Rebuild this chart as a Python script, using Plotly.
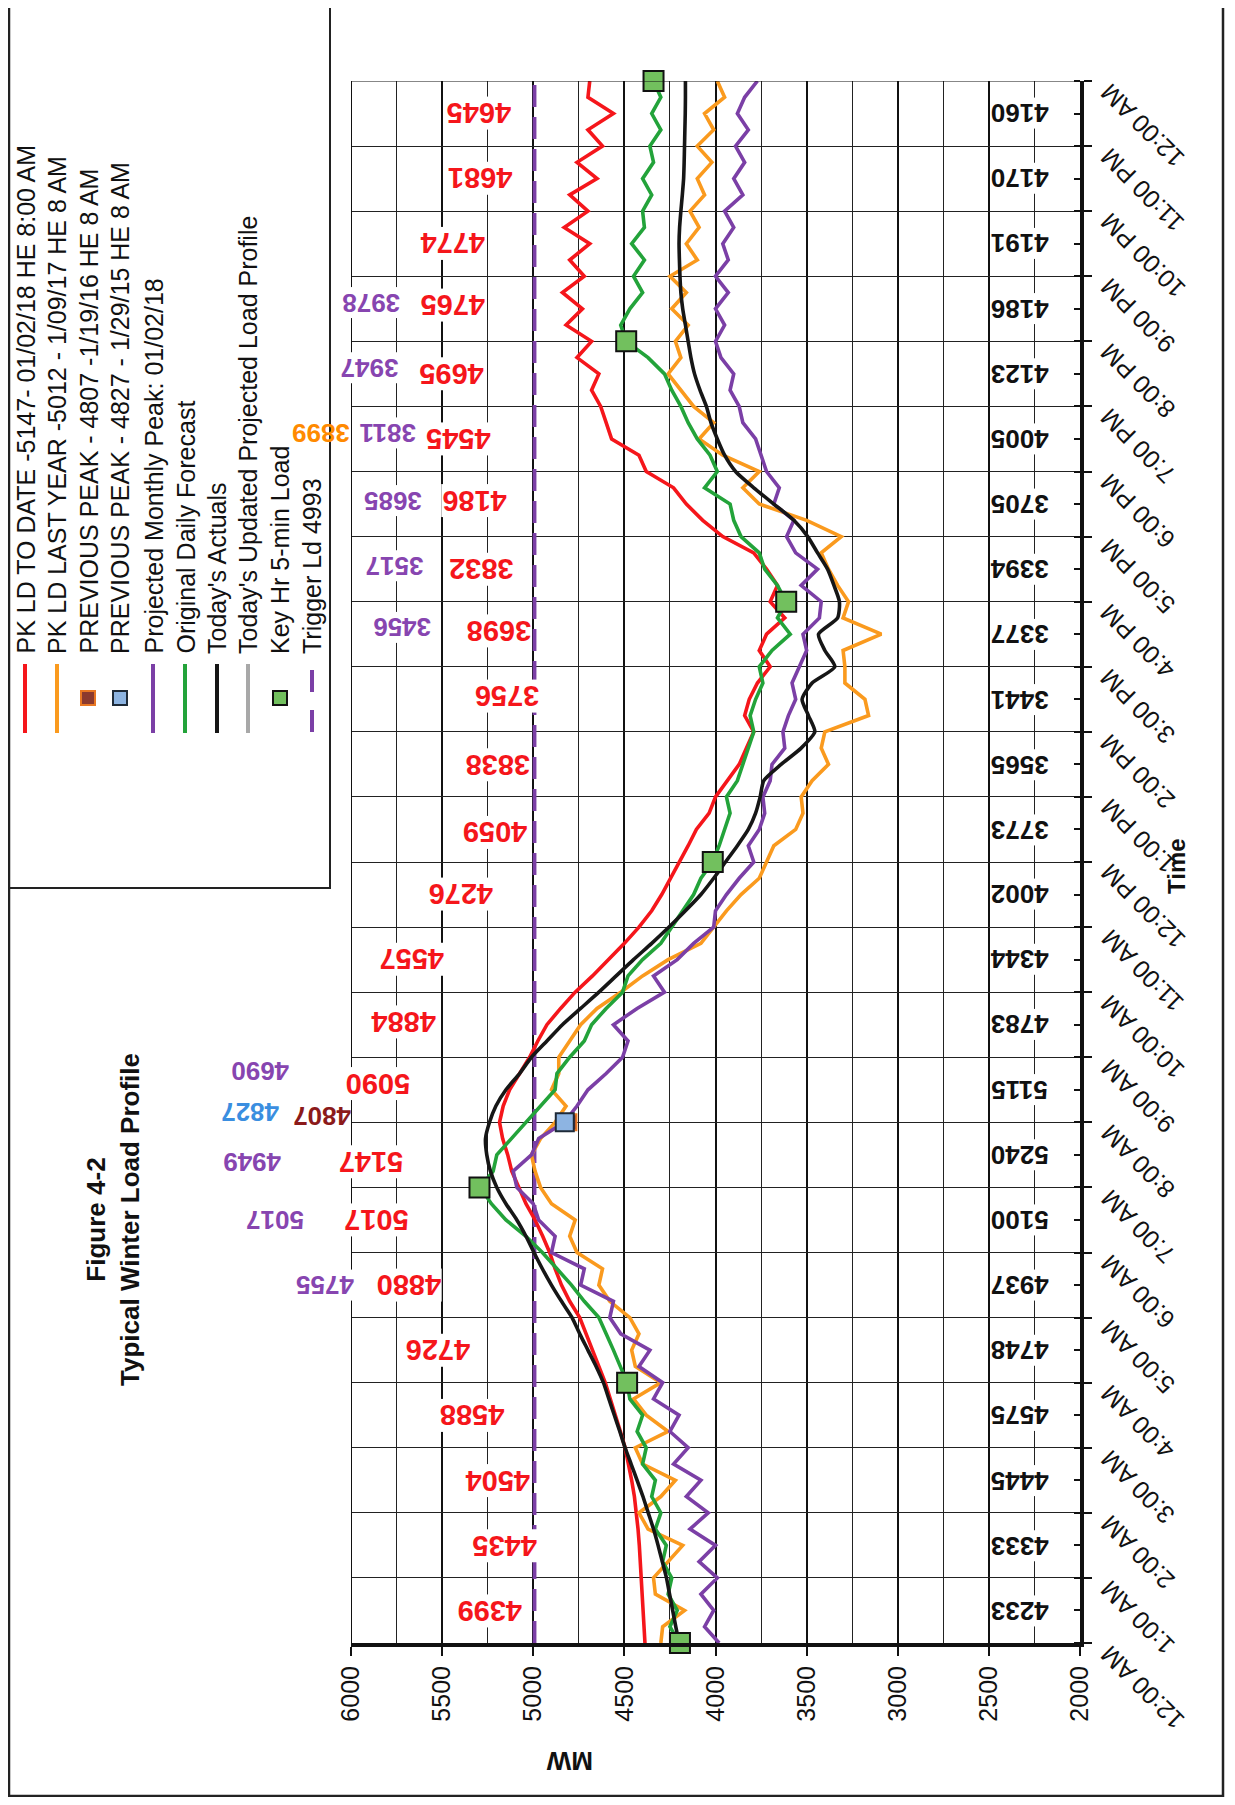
import plotly.graph_objects as go

FONT = "Liberation Sans, Arial, sans-serif"

# ---------------- data ----------------
# time in hours after midnight, 15-minute samples (0 .. 24)
hours = [q / 4 for q in range(97)]
hour_ticks = list(range(25))
hour_labels = ["12:00 AM", "1:00 AM", "2:00 AM", "3:00 AM", "4:00 AM", "5:00 AM",
               "6:00 AM", "7:00 AM", "8:00 AM", "9:00 AM", "10:00 AM", "11:00 AM",
               "12:00 PM", "1:00 PM", "2:00 PM", "3:00 PM", "4:00 PM", "5:00 PM",
               "6:00 PM", "7:00 PM", "8:00 PM", "9:00 PM", "10:00 PM", "11:00 PM",
               "12:00 AM"]
mw_ticks = [6000, 5500, 5000, 4500, 4000, 3500, 3000, 2500, 2000]

pk_ld_to_date = [
    4387, 4392, 4395, 4400,  4405, 4410, 4418, 4425,  4433, 4445, 4460, 4478,
    4496, 4522, 4550, 4578,  4605, 4640, 4675, 4712,  4745, 4800, 4845, 4880,
    4910, 4948, 4990, 5040,  5080, 5118, 5140, 5168,  5185, 5165, 5130, 5075,
    5020, 4975, 4925, 4850,  4770, 4675, 4585, 4500,  4420, 4350, 4295, 4245,
    4200, 4150, 4105, 4035,  4000, 3935, 3870, 3830,  3790, 3840, 3815, 3770,
    3700, 3760, 3720, 3620,  3700, 3660, 3720, 3790,  3960, 4070, 4160, 4230,
    4380, 4420, 4570, 4600,  4630, 4680, 4640, 4760,  4680, 4820, 4730, 4840,
    4720, 4800, 4690, 4830,  4700, 4800, 4650, 4760,  4620, 4700, 4560, 4700,
    4690]

pk_ld_last_year = [
    4300, 4290, 4170, 4330,  4340, 4260, 4180, 4370,  4420, 4300, 4220, 4400,
    4440, 4260, 4380, 4450,  4300, 4440, 4460, 4420,  4470, 4580, 4640, 4620,
    4760, 4800, 4770, 4900,  4960, 4990, 5010, 4960,  4880, 4820, 4900, 4860,
    4860, 4800, 4740, 4650,  4520, 4400, 4260, 4080,  4010, 3940, 3860, 3760,
    3720, 3680, 3560, 3520,  3530, 3470, 3380, 3420,  3400, 3160, 3180, 3290,
    3290, 3300, 3090, 3300,  3270, 3330, 3380, 3420,  3310, 3500, 3760, 3850,
    3760, 3960, 4090, 4010,  4120, 4190, 4260, 4190,  4220, 4150, 4240, 4160,
    4250, 4100, 4160, 4090,  4140, 4060, 4100, 4020,  4100, 4010, 4060, 3950,
    3990]

projected_monthly_peak = [
    3980, 4060, 4010, 4080,  3990, 4090, 4000, 4140,  4040, 4160, 4080, 4230,
    4150, 4250, 4200, 4340,  4290, 4420, 4360, 4520,  4580, 4560, 4740, 4720,
    4900, 4880, 4970, 5000,  5090, 5110, 5010, 4970,  4830, 4760, 4700, 4600,
    4510, 4480, 4560, 4430,  4280, 4340, 4210, 4120,  4010, 4000, 3940, 3870,
    3790, 3820, 3760, 3730,  3740, 3700, 3690, 3620,  3630, 3600, 3560, 3580,
    3540, 3500, 3520, 3430,  3420, 3530, 3440, 3560,  3610, 3570, 3680, 3650,
    3720, 3750, 3780, 3850,  3870, 3920, 3900, 3970,  4000, 3950, 4000, 3930,
    4000, 3930, 3960, 3900,  3950, 3850, 3900, 3840,  3890, 3820, 3880, 3840,
    3770]

original_daily_forecast = [
    4200, 4250, 4210, 4260,  4240, 4290, 4270, 4330,  4300, 4350, 4330, 4400,
    4380, 4430, 4400, 4470,  4485, 4520, 4560, 4600,  4640, 4720, 4790, 4870,
    4950, 5040, 5150, 5230,  5290, 5220, 5200, 5120,  5040, 4960, 4880, 4870,
    4800, 4720, 4680, 4600,  4510, 4480, 4400, 4300,  4240, 4180, 4120, 4080,
    4015, 3980, 3950, 3920,  3940, 3880, 3850, 3820,  3790, 3810, 3780, 3740,
    3760, 3690, 3590, 3660,  3612, 3660, 3730, 3760,  3860, 3900, 3920, 4060,
    3990, 4030, 4100, 4150,  4190, 4240, 4280, 4370,  4490, 4520, 4470, 4400,
    4450, 4390, 4460, 4390,  4400, 4350, 4400, 4340,  4360, 4300, 4350, 4300,
    4340]

todays_actuals = [
    4200, 4218, 4235, 4252,  4269, 4292, 4315, 4340,  4369, 4398, 4430, 4463,
    4496, 4525, 4555, 4585,  4615, 4655, 4700, 4745,  4787, 4845, 4900, 4950,
    4996, 5040, 5090, 5150,  5200, 5235, 5255, 5262,  5240, 5205, 5150, 5075,
    5010, 4925, 4840, 4740,  4640, 4545, 4450, 4350,  4255, 4165, 4080, 4010,
    3945, 3880, 3820, 3780,  3755, 3735, 3640, 3530,  3455, 3490, 3525, 3470,
    3345, 3400, 3435, 3330,  3320, 3350, 3385, 3440,  3494, 3570, 3680, 3790,
    3890, 3950, 3990, 4025,  4050, 4085, 4115, 4135,  4150, 4165, 4180, 4190,
    4195, 4198, 4200, 4197,  4190, 4182, 4175, 4172,  4170, 4168, 4166, 4165,
    4165]

key_hr_hours = [0, 4, 7, 12, 16, 20, 24]
key_hr_mw = [4195, 4485, 5295, 4015, 3612, 4490, 4340]

prev_peak_hour = 8
prev_peak_2016 = 4807
prev_peak_2015 = 4827
trigger_ld = 4993

# hourly value labels (hour ending 1..24)
pk_to_date_hourly = [4399, 4435, 4504, 4588, 4726, 4880, 5017, 5147, 5090, 4884, 4557, 4276,
                     4059, 3838, 3756, 3698, 3832, 4186, 4545, 4695, 4765, 4774, 4681, 4645]
todays_actual_hourly = [4233, 4333, 4445, 4575, 4748, 4937, 5100, 5240, 5115, 4783, 4344, 4002,
                        3773, 3565, 3441, 3377, 3394, 3705, 4005, 4123, 4186, 4191, 4170, 4160]
proj_peak_hourly = [4755, 5017, 4949, 4690, 3456, 3517, 3685, 3811, 3947, 3978]
last_year_he19 = 3899

legend_items = ["PK LD TO DATE -5147- 01/02/18 HE 8:00 AM",
                "PK LD LAST YEAR -5012 - 1/09/17 HE 8 AM",
                "PREVIOUS PEAK - 4807 -1/19/16 HE 8 AM",
                "PREVIOUS PEAK - 4827 - 1/29/15 HE 8 AM",
                "Projected Monthly Peak: 01/02/18",
                "Original Daily Forecast",
                "Today's Actuals",
                "Today's Updated Projected Load Profile",
                "Key Hr 5-min Load",
                "Trigger Ld 4993"]

# ---------------- styling / placement ----------------
OFF = 8                                   # browser body margin
W, H = 1219, 1789
L, R, T, B = 351, 1080, 81, 1643          # plot area in screen pixels


def px(x):
    return (x - L) / (R - L)


def py(y):
    return (B - y) / (B - T)


def mwx(mw):
    return (6000 - mw) / 4000             # MW value -> paper x (reversed axis)


RED = "#F5161B"
ORANGE = "#FA9A1E"
PURPLE = "#7B3FA6"
GREEN = "#23A33A"
BLACK = "#161616"
GREY = "#A8A8A8"
SQ_GREEN = "#72C05E"
LBL_PURPLE = "#8745B0"
LW = 3.6

red_label_x = [5240, 5158, 5196, 5335, 5525, 5684, 5861, 5892, 5854, 5715, 5665, 5399,
               5209, 5196, 5146, 5190, 5285, 5323, 5411, 5449, 5443, 5443, 5291, 5297]
red_label_h = [0.5, 1.5, 2.5, 3.5, 4.5, 5.5, 6.5, 7.4, 8.6, 9.55, 10.5, 11.5,
               12.45, 13.5, 14.55, 15.55, 16.5, 17.55, 18.5, 19.5, 20.55, 21.5, 22.5, 23.5]
proj_label_x = [6143, 6417, 6543, 6499, 5720, 5760, 5770, 5800, 5900, 5890]
proj_label_h = [5.5, 6.5, 7.4, 8.8, 15.6, 16.55, 17.55, 18.6, 19.6, 20.6]

fig = go.Figure()

fig.add_trace(go.Scatter(x=[trigger_ld, trigger_ld], y=[0, 24], mode="lines",
                         line=dict(color=PURPLE, width=3.8, dash="22px,10px"),
                         hoverinfo="skip"))
fig.add_trace(go.Scatter(x=pk_ld_to_date, y=hours, mode="lines",
                         line=dict(color=RED, width=LW)))
fig.add_trace(go.Scatter(x=pk_ld_last_year, y=hours, mode="lines",
                         line=dict(color=ORANGE, width=LW)))
fig.add_trace(go.Scatter(x=projected_monthly_peak, y=hours, mode="lines",
                         line=dict(color=PURPLE, width=LW)))
fig.add_trace(go.Scatter(x=original_daily_forecast, y=hours, mode="lines",
                         line=dict(color=GREEN, width=LW)))
fig.add_trace(go.Scatter(x=todays_actuals, y=hours, mode="lines",
                         line=dict(color=BLACK, width=LW, shape="spline", smoothing=0.6)))
fig.add_trace(go.Scatter(x=[prev_peak_2016], y=[prev_peak_hour], mode="markers",
                         marker=dict(symbol="square", size=16, color="#8B3A2E",
                                     line=dict(color="#E87722", width=2))))
fig.add_trace(go.Scatter(x=[prev_peak_2015], y=[prev_peak_hour], mode="markers",
                         marker=dict(symbol="square", size=18, color="#8DB4E2",
                                     line=dict(color="#1E2A38", width=2))))
fig.add_trace(go.Scatter(x=key_hr_mw, y=key_hr_hours, mode="markers", cliponaxis=False,
                         marker=dict(symbol="square", size=20, color=SQ_GREEN,
                                     line=dict(color="#111", width=2))))

ann = []


def label(xm, hh, text, color, size, bg=True):
    ann.append(dict(x=mwx(xm), y=hh, xref="paper", yref="y", text=f"<b>{text}</b>",
                    showarrow=False, textangle=180, xanchor="center", yanchor="middle",
                    bgcolor="white" if bg else None, borderpad=0,
                    font=dict(family=FONT, size=size, color=color)))


for v, xm, hh in zip(pk_to_date_hourly, red_label_x, red_label_h):
    label(xm, hh, v, RED, 29)
for v, xm, hh in zip(proj_peak_hourly, proj_label_x, proj_label_h):
    label(xm, hh, v, LBL_PURPLE, 26)
label(6159, 8.1, prev_peak_2016, "#8B1A1A", 26, bg=False)
label(6554, 8.16, prev_peak_2015, "#3A8EE0", 26, bg=False)
label(6165, 18.6, last_year_he19, "#FF8A00", 26, bg=False)
for i, v in enumerate(todays_actual_hourly):
    label(2330, i + 0.5, v, "#111", 26)

# time tick labels
for hh, lab in zip(hour_ticks, hour_labels):
    ann.append(dict(x=px(R + 12), y=hh, xref="paper", yref="y", text=lab, showarrow=False,
                    textangle=-135, xanchor="left", yanchor="top", yshift=6,
                    font=dict(family=FONT, size=25, color="#111")))


def ptext(x, y, text, angle, size):
    ann.append(dict(x=px(x), y=py(y), xref="paper", yref="paper", text=text, showarrow=False,
                    textangle=angle, xanchor="center", yanchor="middle",
                    font=dict(family=FONT, size=size, color="#111")))


ptext(1176, 866, "<b>Time</b>", -90, 24)
ptext(570, 1761, "<b>MW</b>", 180, 26)
ptext(113, 1220, "<b>Figure 4-2<br>Typical Winter Load Profile</b>", -90, 26)

shapes = []
shapes.append(dict(type="rect", xref="paper", yref="paper", x0=px(9), x1=px(1223),
                   y0=py(1796), y1=py(3), line=dict(color="#222", width=2.5)))
shapes.append(dict(type="rect", xref="paper", yref="paper", x0=px(9), x1=px(330),
                   y0=py(888), y1=py(3), line=dict(color="#222", width=2)))
shapes.append(dict(type="line", xref="x", yref="y", x0=6000, x1=6000, y0=0, y1=24,
                   line=dict(color="#111", width=2)))
shapes.append(dict(type="line", xref="x", yref="y", x0=6000, x1=2000, y0=24, y1=24,
                   line=dict(color="#111", width=1)))

# legend (drawn rotated, like the page)
col_x = [25, 57, 88, 120, 153, 185, 217, 248, 280, 312]
sym = [("line", RED), ("line", ORANGE), ("sq", ("#8B3A2E", "#E87722")), ("sq", ("#8DB4E2", "#1E2A38")),
       ("line", PURPLE), ("line", GREEN), ("line", BLACK), ("line", GREY),
       ("sq", (SQ_GREEN, "#111")), ("dash", PURPLE)]
for cx, text, (kind, col) in zip(col_x, legend_items, sym):
    ann.append(dict(x=px(cx), y=py(656), xref="paper", yref="paper", text=text, showarrow=False,
                    textangle=-90, xanchor="center", yanchor="bottom",
                    font=dict(family=FONT, size=25, color="#111")))
    if kind == "line":
        shapes.append(dict(type="line", xref="paper", yref="paper", x0=px(cx), x1=px(cx),
                           y0=py(664), y1=py(733), line=dict(color=col, width=4)))
    elif kind == "dash":
        for a, b in [(670, 692), (710, 732)]:
            shapes.append(dict(type="line", xref="paper", yref="paper", x0=px(cx), x1=px(cx),
                               y0=py(a), y1=py(b), line=dict(color=col, width=4)))
    else:
        shapes.append(dict(type="rect", xref="paper", yref="paper", x0=px(cx - 7), x1=px(cx + 7),
                           y0=py(705), y1=py(691), fillcolor=col[0],
                           line=dict(color=col[1], width=2)))

fig.update_layout(
    width=W, height=H,
    margin=dict(l=L - OFF, r=W - (R - OFF), t=T - OFF, b=H - (B - OFF)),
    paper_bgcolor="white", plot_bgcolor="white",
    showlegend=False,
    font=dict(family=FONT, color="#111"),
    annotations=ann, shapes=shapes,
    xaxis=dict(range=[6000, 2000], tickvals=mw_ticks, ticktext=[str(v) for v in mw_ticks],
               tickangle=-90, tickfont=dict(family=FONT, size=25, color="#111"),
               ticks="outside", ticklen=9, tickwidth=2, tickcolor="#111",
               showline=True, linewidth=4, linecolor="#111",
               showgrid=True, gridcolor="#111", gridwidth=2, zeroline=False,
               minor=dict(tickvals=[5750, 5250, 4750, 4250, 3750, 3250, 2750, 2250],
                          showgrid=True, gridcolor="#222", gridwidth=1, ticks="")),
    yaxis=dict(range=[0, 24], tickvals=hour_ticks, showticklabels=False, side="right",
               ticks="outside", ticklen=8, tickwidth=2, tickcolor="#111",
               showline=True, linewidth=4, linecolor="#111",
               showgrid=True, gridcolor="#222", gridwidth=1, zeroline=False,
               minor=dict(dtick=0.5, ticks="inside", ticklen=6, tickwidth=2,
                          tickcolor="#111", showgrid=False)),
)

fig.write_html("out.html")
